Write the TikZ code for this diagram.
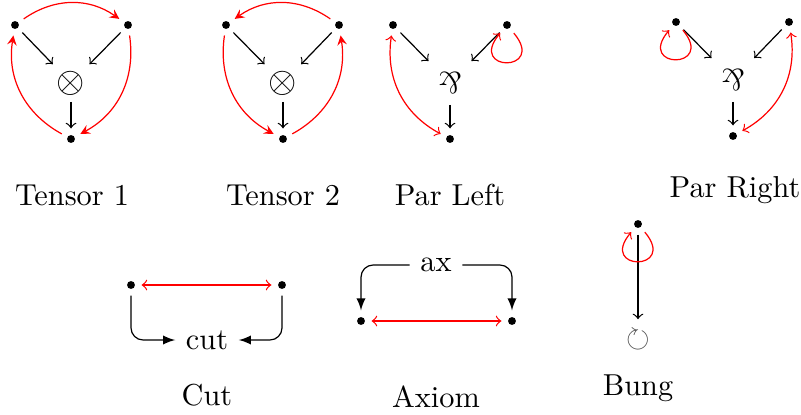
\documentclass[tikz,border=0pt]{standalone}
\usepackage{amssymb}
\usepackage{graphicx}
\newcommand{\parrsym}{\rotatebox[origin=c]{180}{\&}}
\begin{document}
\begin{tikzpicture}[x=0.33pt, y=0.33pt, >=to,
        dot/.style={circle, fill, inner sep=0pt, minimum size=2.6pt, outer sep=2.2pt},
        link/.style={->},
        jump/.style={red, -stealth},
        pair/.style={red, <->},
        self/.style={red, ->, out=-50, in=-130, min distance=17pt},
        hook/.style={-latex, rounded corners=4pt}]
        \useasboundingbox (0,0) rectangle (801,414);

        % Tensor 1
        \node[dot] (t1a) at (15,389) {};
        \node[dot] (t1b) at (128,389) {};
        \node[font=\large, inner sep=2pt] (t1x) at (71,331) {$\otimes$};
        \node[dot] (t1c) at (71,275) {};
        \node (t1name) at (72,219) {Tensor 1};
        \draw[link] (t1a) -- (t1x);
        \draw[link] (t1b) -- (t1x);
        \draw[link] (t1x) -- (t1c);
        \draw[jump] (t1a) to[bend left=35] (t1b);
        \draw[jump] (t1b) to[bend left=35] (t1c);
        \draw[jump] (t1c) to[bend left=35] (t1a);

        % Tensor 2
        \node[dot] (t2a) at (226,389) {};
        \node[dot] (t2b) at (339,389) {};
        \node[font=\large, inner sep=2pt] (t2x) at (283,331) {$\otimes$};
        \node[dot] (t2c) at (283,275) {};
        \node (t2name) at (283,219) {Tensor 2};
        \draw[link] (t2a) -- (t2x);
        \draw[link] (t2b) -- (t2x);
        \draw[link] (t2x) -- (t2c);
        \draw[jump] (t2b) to[bend right=35] (t2a);
        \draw[jump] (t2a) to[bend right=35] (t2c);
        \draw[jump] (t2c) to[bend right=35] (t2b);

        % Par Left
        \node[dot] (p1a) at (393,389) {};
        \node[dot] (p1b) at (507,389) {};
        \node (p1x) at (450,331) {\parrsym};
        \node[dot] (p1c) at (450,275) {};
        \node (p1name) at (450,219) {Par Left};
        \draw[link] (p1a) -- (p1x);
        \draw[link] (p1b) -- (p1x);
        \draw[link] (p1x) -- (p1c);
        \draw[pair] (p1a) to[bend right=35] (p1c);
        \draw[self] (p1b) to (p1b);

        % Par Right
        \node[dot] (p2a) at (676,392) {};
        \node[dot] (p2b) at (789,392) {};
        \node (p2x) at (733,334) {\parrsym};
        \node[dot] (p2c) at (733,278) {};
        \node (p2name) at (735,224) {Par Right};
        \draw[link] (p2a) -- (p2x);
        \draw[link] (p2b) -- (p2x);
        \draw[link] (p2x) -- (p2c);
        \draw[pair] (p2b) to[bend left=35] (p2c);
        \draw[self] (p2a) to (p2a);

        % Cut
        \node[dot] (c1) at (131,129) {};
        \node[dot] (c2) at (282,129) {};
        \node (cut) at (207,74) {cut};
        \node (cutname) at (207,19) {Cut};
        \draw[pair] (c1) -- (c2);
        \draw[hook] (c1) |- (cut);
        \draw[hook] (c2) |- (cut);

        % Axiom
        \node (ax) at (436,149) {ax};
        \node[dot] (a1) at (361,93) {};
        \node[dot] (a2) at (512,93) {};
        \node (axname) at (436,17) {Axiom};
        \draw[pair] (a1) -- (a2);
        \draw[hook] (ax) -| (a1);
        \draw[hook] (ax) -| (a2);

        % Bung
        \node[dot] (b1) at (638,190) {};
        \node[black!70] (b2) at (638,74) {$\circlearrowright$};
        \node (bname) at (638,26) {Bung};
        \draw[link] (b1) -- (b2);
        \draw[self] (b1) to (b1);
    \end{tikzpicture}
\end{document}
